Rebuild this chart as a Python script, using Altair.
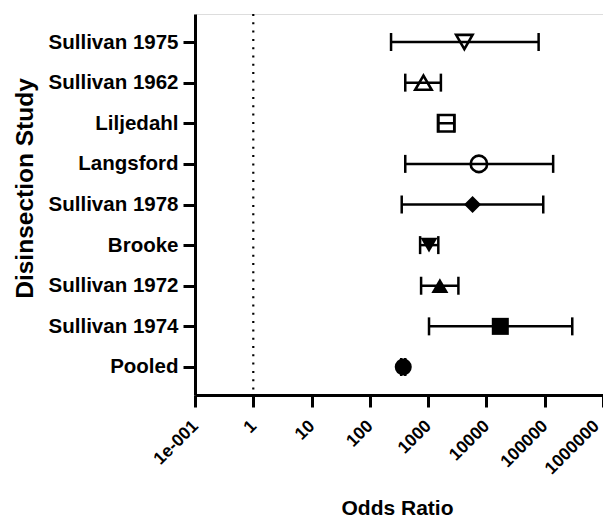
import math
import altair as alt
import pandas as pd

# ---- data ----
studies = ["Sullivan 1975", "Sullivan 1962", "Liljedahl", "Langsford", "Sullivan 1978",
           "Brooke", "Sullivan 1972", "Sullivan 1974", "Pooled"]
odds = [4180, 830, 2040, 7430, 5780, 1035, 1590, 17300, 374]
lower = [231, 405, 1500, 405, 352, 728, 757, 1035, 345]
upper = [78600, 1655, 2800, 139600, 94400, 1494, 3304, 297000, 405]
shapes = ["triangle-down", "triangle-up", "square", "circle", "diamond",
          "triangle-down", "triangle-up", "square", "circle"]
filled = [False, False, False, False, True, True, True, True, True]
tick_values = [0.1, 1, 10, 100, 1000, 10000, 100000, 1000000]
tick_labels = ["1e-001", "1", "10", "100", "1000", "10000", "100000", "1000000"]
reference_value = [1]

FONT = "Liberation Sans"

df = pd.DataFrame(dict(study=studies, odds=odds, lower=lower, upper=upper,
                       shape=shapes, filled=filled))
ref_df = pd.DataFrame(dict(x=reference_value))

offset = -round(math.log10(tick_values[0]))
labels_js = "[" + ",".join(f"'{l}'" for l in tick_labels) + "]"
label_expr = f"{labels_js}[round(log(datum.value)/LN10) + {offset}]"

x_scale = alt.Scale(type="log", domain=[tick_values[0], tick_values[-1]], nice=False)
x_axis = alt.Axis(values=tick_values, labelExpr=label_expr, labelAngle=315,
                  labelAlign="right", labelBaseline="middle",
                  labelFlush=False, labelOverlap=False, labelBound=False,
                  labelOffset={"condition": {"test": f"datum.value >= {tick_values[-1]}",
                                             "value": -7}, "value": 0},
                  labelFont=FONT, labelFontSize=17.5, labelFontWeight="bold",
                  labelColor="black", labelPadding=16,
                  title="Odds Ratio", titleFont=FONT, titleFontSize=21,
                  titleFontWeight="bold", titleColor="black",
                  titleX=202, titleY=119, titleBaseline="alphabetic",
                  titleAlign="center",
                  grid=False, domainWidth=3, domainColor="black",
                  tickWidth=3, tickColor="black", tickSize=12)
y_scale = alt.Scale(type="point", padding=0.69)
y_axis = alt.Axis(labelFont=FONT, labelFontSize=20.5, labelFontWeight="bold",
                  labelColor="black", labelPadding=5,
                  title="Disinsection Study", titleFont=FONT, titleFontSize=24.5,
                  titleFontWeight="bold", titleColor="black", titleAngle=270,
                  titleX=-163, titleY=174, titleBaseline="alphabetic",
                  titleAlign="center",
                  grid=False, domainWidth=3, domainColor="black",
                  tickWidth=3, tickColor="black", tickSize=12)

X = alt.X("odds:Q", scale=x_scale, axis=x_axis)
Y = alt.Y("study:N", sort=studies, scale=y_scale, axis=y_axis)

base = alt.Chart(df)

ref = alt.Chart(ref_df).mark_rule(strokeDash=[2, 6.3], strokeWidth=2.2,
                                  color="black").encode(
    x=alt.X("x:Q", scale=x_scale, axis=x_axis))

bars = base.mark_rule(strokeWidth=2.5, color="black").encode(
    x=alt.X("lower:Q", scale=x_scale, axis=x_axis), x2="upper:Q", y=Y)

cap_lo = base.mark_tick(orient="vertical", size=18, thickness=2.5,
                        color="black", opacity=1).encode(
    x=alt.X("lower:Q", scale=x_scale, axis=x_axis), y=Y)
cap_hi = base.mark_tick(orient="vertical", size=18, thickness=2.5,
                        color="black", opacity=1).encode(
    x=alt.X("upper:Q", scale=x_scale, axis=x_axis), y=Y)

open_pts = base.transform_filter("!datum.filled").mark_point(
    filled=False, strokeWidth=2.6, size=270, color="black", opacity=1).encode(
    x=X, y=Y, shape=alt.Shape("shape:N", scale=None))

filled_pts = base.transform_filter("datum.filled").mark_point(
    filled=True, size=290, color="black", opacity=1).encode(
    x=X, y=Y, shape=alt.Shape("shape:N", scale=None))

chart = alt.layer(ref, bars, cap_lo, cap_hi, open_pts, filled_pts).properties(
    width=408, height=381, autosize="none",
    padding={"left": 187, "top": 6, "right": 0, "bottom": 126},
).configure_view(stroke=None).configure(background="white")

chart.save("out.html", embed_options={"renderer": "svg", "actions": False})
